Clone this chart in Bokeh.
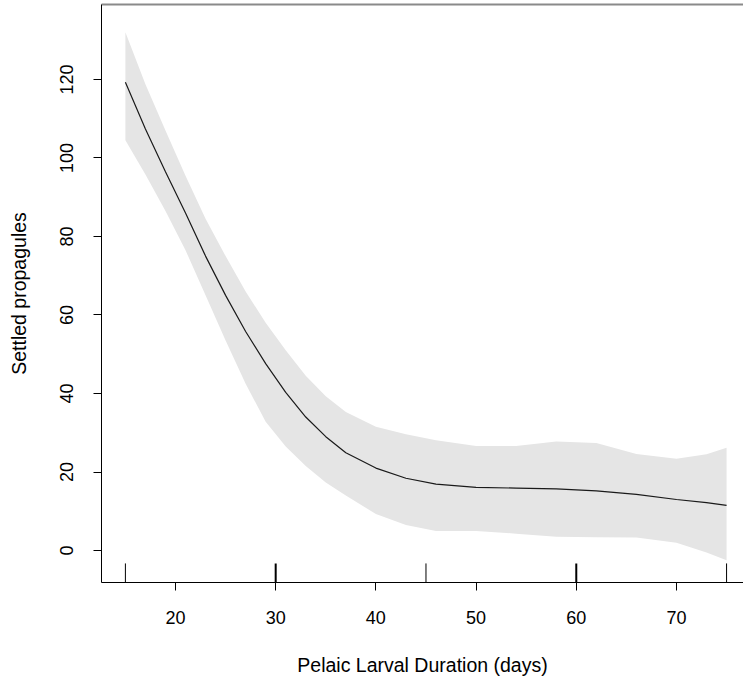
from bokeh.plotting import figure
from bokeh.models import LinearAxis, FixedTicker, Range1d, ColumnDataSource
from bokeh.embed import file_html
from bokeh.resources import INLINE

# Pelagic larval duration (days) and fitted settled propagules with confidence band
pld = [15, 17, 19, 21, 23, 25, 27, 29, 31, 33, 35, 37, 40, 43, 46, 50, 54, 58, 62, 66, 70, 73, 75]
fit = [119.3, 107.4, 96.5, 86.0, 75.0, 65.0, 55.8, 47.6, 40.3, 34.0, 29.0, 24.9, 21.0, 18.4, 16.9,
       16.1, 15.9, 15.7, 15.2, 14.3, 13.0, 12.2, 11.5]
upper = [132.0, 118.8, 107.0, 95.5, 84.5, 75.0, 66.0, 58.0, 51.0, 44.5, 39.3, 35.3, 31.5, 29.6, 28.1,
         26.6, 26.6, 27.8, 27.4, 24.6, 23.4, 24.5, 26.2]
lower = [104.5, 95.8, 86.5, 76.5, 65.0, 53.5, 42.5, 32.8, 26.5, 21.5, 17.3, 14.0, 9.3, 6.5, 5.0,
         5.0, 4.3, 3.5, 3.4, 3.3, 2.0, -0.5, -2.5]

# rug of observed PLD values (value, number of observations)
rug_x = [15, 30, 45, 60, 75]
rug_n = [1, 2, 1, 2, 1]

x_ticks = [20, 30, 40, 50, 60, 70]
y_ticks = [0, 20, 40, 60, 80, 100, 120]

X0, X1 = 12.615, 76.69
Y0, Y1 = -8.15, 139.1

FONT = "Liberation Sans"
TICK_FS = "18px"
LABEL_FS = "19.5px"

p = figure(width=743, height=683, output_backend="svg", toolbar_location=None,
           x_range=Range1d(X0, X1), y_range=Range1d(Y0, Y1),
           min_border_left=101, min_border_right=0, min_border_top=4, min_border_bottom=101)
p.outline_line_color = None
p.xgrid.visible = False
p.ygrid.visible = False
p.background_fill_color = "white"
p.border_fill_color = "white"

band_src = ColumnDataSource(dict(x=pld, lo=lower, hi=upper, fit=fit))
p.varea(x="x", y1="lo", y2="hi", source=band_src, fill_color="#E5E5E5", fill_alpha=1.0)
p.line(x="x", y="fit", source=band_src, line_color="#1a1a1a", line_width=1.2)

rug_top = Y0 + 0.033 * (Y1 - Y0)
rug_src = ColumnDataSource(dict(x=rug_x, y0=[Y0] * len(rug_x), y1=[rug_top] * len(rug_x),
                                w=[1.0 * n for n in rug_n]))
p.segment(x0="x", y0="y0", x1="x", y1="y1", source=rug_src, line_color="black", line_width="w")

xa = p.xaxis[0]
xa.ticker = FixedTicker(ticks=x_ticks)
xa.axis_label = "Pelaic Larval Duration (days)"
ya = p.yaxis[0]
ya.ticker = FixedTicker(ticks=y_ticks)
ya.axis_label = "Settled propagules"
ya.major_label_orientation = "vertical"

for ax in (xa, ya):
    ax.axis_line_color = "black"
    ax.axis_line_width = 1
    ax.major_tick_line_color = "black"
    ax.major_tick_out = 8
    ax.major_tick_in = 0
    ax.minor_tick_out = 0
    ax.minor_tick_in = 0
    ax.major_label_text_font = FONT
    ax.major_label_text_font_size = TICK_FS
    ax.major_label_text_color = "black"
    ax.axis_label_text_font = FONT
    ax.axis_label_text_font_size = LABEL_FS
    ax.axis_label_text_font_style = "normal"
    ax.axis_label_text_color = "black"

xa.major_label_standoff = 20
xa.axis_label_standoff = 27
ya.major_label_standoff = 20
ya.axis_label_standoff = 28

top = LinearAxis(ticker=FixedTicker(ticks=[]), major_label_text_font_size="0px",
                 major_tick_out=0, major_tick_in=0, minor_tick_out=0, minor_tick_in=0,
                 major_label_standoff=0, axis_line_color="#8a8a8a", axis_line_width=2)
p.add_layout(top, "above")

open("out.html", "w").write(file_html(p, INLINE))
